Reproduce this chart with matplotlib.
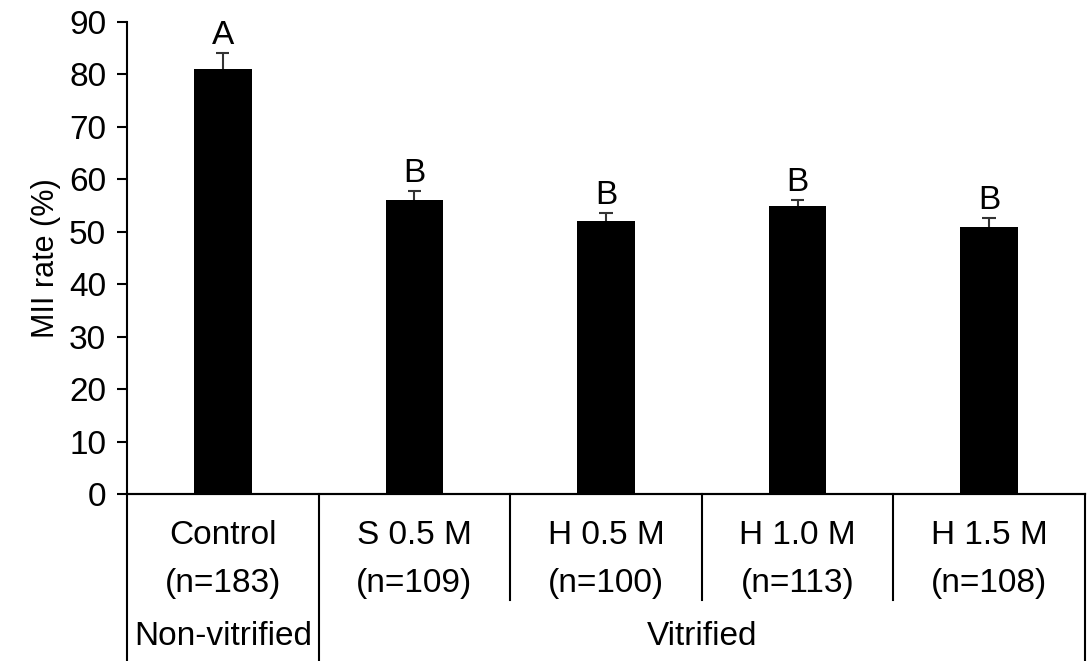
import matplotlib
matplotlib.use('Agg')
import matplotlib.pyplot as plt
from matplotlib.lines import Line2D

plt.rcParams['font.family'] = ['Liberation Sans', 'DejaVu Sans']

groups = ['Control', 'S 0.5 M', 'H 0.5 M', 'H 1.0 M', 'H 1.5 M']
counts = ['(n=183)', '(n=109)', '(n=100)', '(n=113)', '(n=108)']
mii_rate = [81.0, 56.0, 52.0, 55.0, 51.0]
sem = [3.0, 1.8, 1.5, 1.0, 1.6]
letters = ['A', 'B', 'B', 'B', 'B']
treatment = ['Non-vitrified', 'Vitrified']

fs = 24

fig = plt.figure(figsize=(10.91, 6.61), dpi=100)
ax = fig.add_axes([0.1164, 0.2526, 0.8781, 0.7141])

x = list(range(len(groups)))
tops = [m + s for m, s in zip(mii_rate, sem)]
ax.bar(x, mii_rate, width=0.30, color='black', zorder=2)
# upper error bars only (stem + cap)
ax.vlines(x, mii_rate, tops, color='#333333', linewidth=1.5, zorder=1)
ax.hlines(tops, [xi - 0.035 for xi in x], [xi + 0.035 for xi in x],
          color='#333333', linewidth=1.5, zorder=1)

for xi, t, lab in zip(x, tops, letters):
    ax.text(xi, t + 0.4, lab, ha='center', va='bottom', fontsize=fs)

ax.set_xlim(-0.5, len(groups) - 0.5)
ax.set_ylim(0, 90)
ax.set_yticks(range(0, 91, 10))
ax.tick_params(axis='y', labelsize=fs, length=7, width=1.5, direction='out', pad=8)
ax.set_xticks([])
ax.set_ylabel('MII rate (%)', fontsize=22, labelpad=6)

for side in ['top', 'right']:
    ax.spines[side].set_visible(False)
ax.spines['left'].set_linewidth(1.5)
ax.spines['bottom'].set_linewidth(1.5)

tr = ax.get_xaxis_transform()
for xi, g, n in zip(x, groups, counts):
    ax.text(xi, -0.087, g, transform=tr, ha='center', va='center', fontsize=fs)
    ax.text(xi, -0.189, n, transform=tr, ha='center', va='center', fontsize=fs)

ax.text(0, -0.301, treatment[0], transform=tr, ha='center', va='center', fontsize=fs)
ax.text(2.5, -0.301, treatment[1], transform=tr, ha='center', va='center', fontsize=fs)

# group separators below the axis
for b in [xi - 0.5 for xi in x] + [len(groups) - 0.5]:
    if b in (-0.5, 0.5, len(groups) - 0.5):
        y_end = -0.36
    else:
        y_end = -0.225
    ax.add_line(Line2D([b, b], [0, y_end], transform=tr, color='black',
                       linewidth=1.5, clip_on=False))
ax.add_line(Line2D([-0.5, len(groups) - 0.5], [0, 0], transform=tr,
                   color='black', linewidth=1.5, clip_on=False))

fig.savefig('out.png', dpi=100)
